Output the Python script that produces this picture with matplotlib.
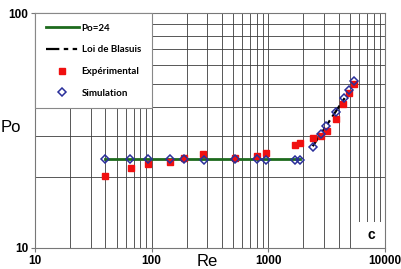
import matplotlib
matplotlib.use("Agg")
import matplotlib.pyplot as plt
from matplotlib.ticker import LogLocator, NullFormatter, FixedLocator
from matplotlib.patches import Rectangle

# Po=24 laminar line
po24_re = [40, 1850]
po24_po = [24, 24]

# Blasius law (turbulent)
blas_re = [2400, 5500]
blas_po = [27.1, 50.4]

# Experimental points
exp_re = [40, 66, 93, 145, 190, 277, 518, 794, 953, 1690, 1850, 2410, 2800, 3160, 3780, 4400, 4900, 5450]
exp_po = [20.2, 22.0, 22.7, 23.2, 24.2, 25.2, 24.1, 24.6, 25.3, 27.4, 27.9, 29.3, 30.0, 31.6, 35.3, 41.0, 45.5, 49.9]

# Simulation points
sim_re = [40, 65, 93, 145, 190, 280, 520, 800, 950, 1700, 1850, 2400, 2850, 3100, 3800, 4450, 4950, 5450]
sim_po = [24, 24, 24, 24, 24, 23.8, 24, 24, 23.8, 23.8, 23.8, 26.8, 30.6, 33.0, 38.0, 43.4, 47.0, 51.5]

x_ticks = [10, 100, 1000, 10000]
y_ticks = [10, 100]

plt.rcParams['font.family'] = ['Liberation Sans', 'DejaVu Sans']

fig = plt.figure(figsize=(4.01, 2.69), dpi=100)
ax = fig.add_axes([35 / 401, 21 / 269, 350 / 401, 235 / 269])

ax.plot(po24_re, po24_po, color='#1d6a1d', lw=2.0, label='Po=24', zorder=2)
ax.plot(blas_re, blas_po, color='black', lw=1.6, dashes=[6, 2, 2, 2, 2, 2],
        label='Loi de Blasuis', zorder=2)
ax.plot(exp_re, exp_po, ls='none', marker='s', ms=5.0, color='#f01010',
        mec='#f01010', label='Expérimental', zorder=3)
ax.plot(sim_re, sim_po, ls='none', marker='D', ms=4.0, mfc='none',
        mec='#2a2f9a', mew=1.1, label='Simulation', zorder=4)

ax.set_xscale('log')
ax.set_yscale('log')
ax.set_xlim(10, 10000)
ax.set_ylim(10, 100)

ax.xaxis.set_major_locator(FixedLocator(x_ticks))
ax.yaxis.set_major_locator(FixedLocator(y_ticks))
ax.set_xticklabels([str(t) for t in x_ticks])
ax.set_yticklabels([str(t) for t in y_ticks])
for axis in (ax.xaxis, ax.yaxis):
    axis.set_minor_locator(LogLocator(base=10, subs=range(2, 10)))
    axis.set_minor_formatter(NullFormatter())

ax.grid(which='both', color='#3c3c3c', lw=0.6)
ax.tick_params(which='major', direction='out', length=3, width=0.8, color='#777777',
               labelsize=8.5, pad=2)
ax.tick_params(which='minor', length=0)
for lab in ax.get_xticklabels() + ax.get_yticklabels():
    lab.set_fontweight('bold')
for s in ax.spines.values():
    s.set_color('#777777')
    s.set_linewidth(0.8)

# axis names
fig.text(11 / 401, 1 - 128 / 269, 'Po', fontsize=12, ha='center', va='center')
fig.text(207 / 401, 1 - 261 / 269, 'Re', fontsize=12, ha='center', va='center')

# "c" panel tag
ax.add_patch(Rectangle((0.923, 0.0), 0.077, 0.11, transform=ax.transAxes,
                       facecolor='white', edgecolor='none', zorder=2.5))
ax.text(0.962, 0.055, 'c', transform=ax.transAxes, fontsize=10, fontweight='bold',
        ha='center', va='center', zorder=3)

leg = ax.legend(loc='upper left', bbox_to_anchor=(0, 1), borderaxespad=0,
                fancybox=False, framealpha=1, edgecolor='#888888',
                prop={'family': 'Lato', 'weight': 'bold', 'size': 7},
                handlelength=3.4, handletextpad=0.3, labelspacing=1.3,
                borderpad=1.1)
leg.get_frame().set_linewidth(0.8)

fig.savefig('out.png', dpi=100)
